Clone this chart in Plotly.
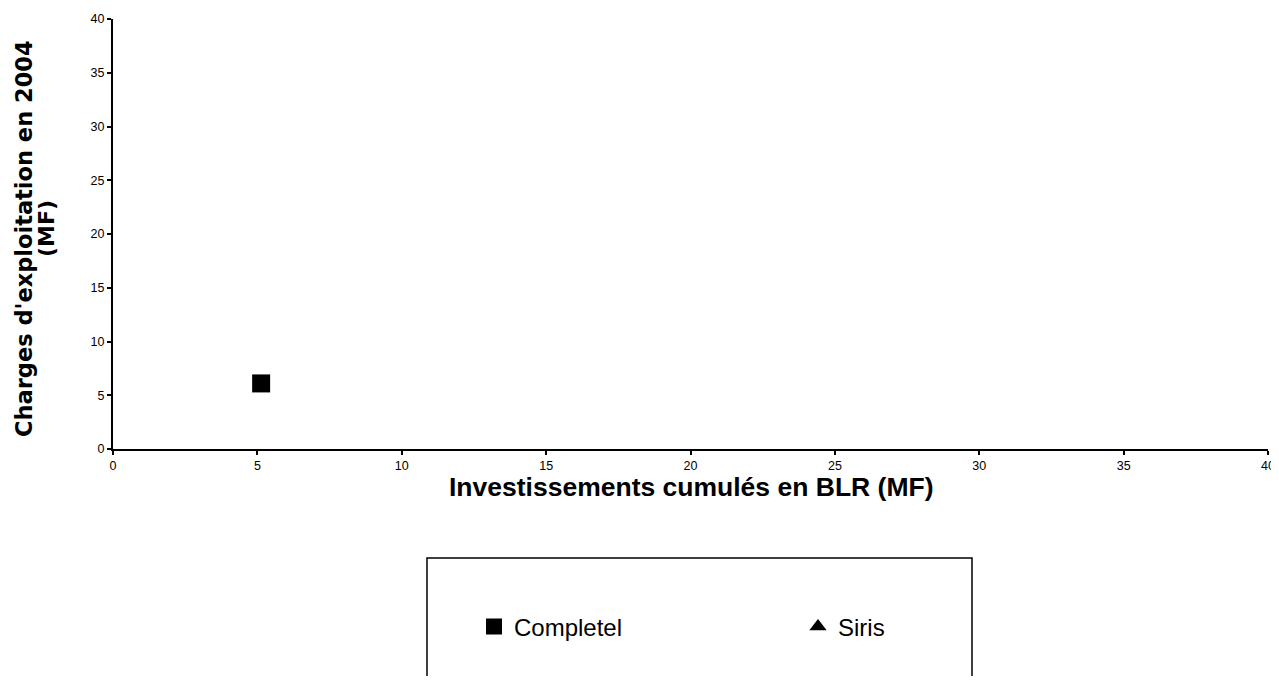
import plotly.graph_objects as go

# Data
series_names = ["Completel", "Siris"]
completel_x = [5.13]
completel_y = [6.1]
siris_x = [None]
siris_y = [None]
x_ticks = [0, 5, 10, 15, 20, 25, 30, 35, 40]
y_ticks = [0, 5, 10, 15, 20, 25, 30, 35, 40]
x_title = "Investissements cumulés en BLR (MF)"
y_title_lines = ["Charges d'exploitation en 2004", "(MF)"]

# Page offset (body margin) is 8px; figure coordinates = screen - 8
W, H = 1271, 668
L, R, T, B = 105, 11, 11, 227
pw, ph = W - L - R, H - T - B
OFF = 8

def sx(p):  # screen px -> paper x
    return (p - OFF - L) / pw

def sy(p):  # screen px -> paper y
    return (H - B - (p - OFF)) / ph

fig = go.Figure()
fig.add_trace(go.Scatter(x=completel_x, y=completel_y, mode="markers", name=series_names[0],
                         marker=dict(symbol="square", size=18, color="black", line=dict(width=0))))
fig.add_trace(go.Scatter(x=siris_x, y=siris_y, mode="markers", name=series_names[1],
                         marker=dict(symbol="triangle-up", size=15, color="black", line=dict(width=0))))

tickfont = dict(family="Liberation Sans, Arial", size=12.5, color="black")
axis_common = dict(range=[0, 40], ticks="outside", ticklen=4, tickwidth=1.5,
                   tickcolor="black", showline=True, linecolor="black", linewidth=2,
                   showgrid=False, zeroline=False, tickfont=tickfont, fixedrange=True,
                   ticklabeloverflow="allow")

fig.update_layout(
    width=W, height=H,
    margin=dict(l=L, r=R, t=T, b=B, autoexpand=False),
    plot_bgcolor="white", paper_bgcolor="white",
    font=dict(family="Liberation Sans, Arial", color="black"),
    xaxis=dict(**axis_common, tickvals=x_ticks),
    yaxis=dict(**axis_common, tickvals=y_ticks),
    showlegend=True,
    legend=dict(orientation="h", x=sx(474), y=sy(627), xanchor="left", yanchor="middle",
                font=dict(family="Liberation Sans, Arial", size=24, color="black"),
                bgcolor="rgba(0,0,0,0)", borderwidth=0,
                entrywidth=279, entrywidthmode="pixels", itemclick=False, itemdoubleclick=False),
    shapes=[dict(type="rect", xref="paper", yref="paper",
                 x0=sx(427), x1=sx(972), y0=sy(720), y1=sy(558),
                 line=dict(color="black", width=1.5), fillcolor="rgba(0,0,0,0)")],
    annotations=[
        dict(text="<b>%s</b>" % x_title, xref="paper", yref="paper", x=0.5, y=sy(487),
             xanchor="center", yanchor="middle", showarrow=False,
             font=dict(family="Liberation Sans, Arial", size=26.5, color="black")),
        dict(text="<b>%s</b>" % y_title_lines[0], xref="paper", yref="paper", x=sx(24), y=sy(239),
             xanchor="center", yanchor="middle", textangle=-90, showarrow=False,
             font=dict(family="DejaVu Sans", size=22.5, color="black")),
        dict(text="<b>%s</b>" % y_title_lines[1], xref="paper", yref="paper", x=sx(46), y=sy(229),
             xanchor="center", yanchor="middle", textangle=-90, showarrow=False,
             font=dict(family="DejaVu Sans", size=22, color="black")),
    ],
)

fig.write_html("out.html")
